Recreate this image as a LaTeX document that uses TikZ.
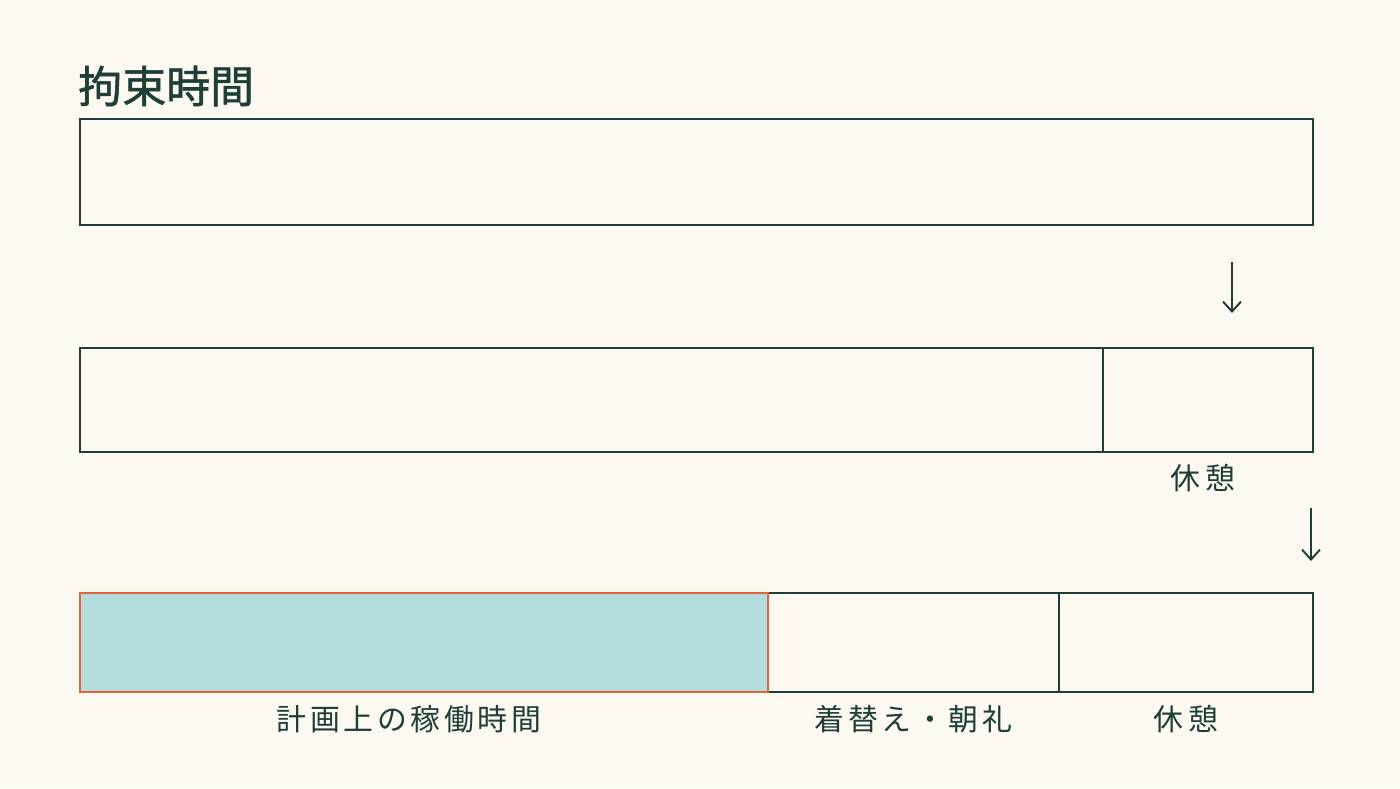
\documentclass[tikz,border=0pt]{standalone}
\usepackage{fontspec}
\newfontfamily\cjktitle[FakeBold=1.2]{Noto Sans CJK JP}
\newfontfamily\cjkspaced[LetterSpace=12]{Noto Sans CJK JP}
\usetikzlibrary{positioning,arrows.meta}
\definecolor{paper}{HTML}{FCF9F0}
\definecolor{ink}{HTML}{1E3F36}
\definecolor{plan}{HTML}{B3DCDC}
\definecolor{edge}{HTML}{E2643C}
\begin{document}
\begin{tikzpicture}[x=0.02cm, y=-0.02cm,
  bar/.style={draw=ink, line width=1.1pt, fill=paper, inner sep=0pt, outer sep=0pt},
  planbar/.style={bar, draw=edge, fill=plan},
  tag/.style={text=ink, font=\cjkspaced\fontsize{17pt}{20pt}\selectfont, inner sep=0pt},
  down/.style={draw=ink, line width=1.1pt, -{Straight Barb[length=0.2cm, width=0.36cm]}}]
\fill[paper] (0,0) rectangle (1400,788);
\useasboundingbox (0,0) rectangle (1400,788);
% title
\node[anchor=west, text=ink, inner sep=0pt, font=\cjktitle\fontsize{25pt}{28pt}\selectfont]
  (title) at (78,86) {拘束時間};
% bar 1
\node[bar, minimum width=24.66cm, minimum height=2.12cm] (total) at (696.5,172) {};
\coordinate (a1) at (1232,262);
\coordinate (a1e) at (1232,313);
\draw[down] (a1) -- (a1e);
% bar 2
\node[bar, minimum width=20.46cm, minimum height=2.08cm] (work) at (591.5,400) {};
\node[bar, minimum width=4.2cm, minimum height=2.08cm] (rest) at (1208,400) {};
\node[tag, below=0.24cm of rest, xshift=-0.1cm] (restlbl) {休\hspace{0.2em}憩};
\coordinate (a2) at (1311,508);
\coordinate (a2e) at (1311,561);
\draw[down] (a2) -- (a2e);
% bar 3
\node[bar, minimum width=5.82cm, minimum height=1.98cm] (prep) at (913.5,642.5) {};
\node[bar, minimum width=5.08cm, minimum height=1.98cm] (rest2) at (1186,642.5) {};
\node[planbar, minimum width=13.76cm, minimum height=1.98cm] (plan) at (424,642.5) {};
\node[tag, below=0.26cm of plan, xshift=-0.3cm] (planlbl) {計画上の稼働時間};
\node[tag, below=0.26cm of prep] (preplbl) {着替え・朝礼};
\node[tag, below=0.26cm of rest2] (rest2lbl) {休\hspace{0.2em}憩};
\end{tikzpicture}
\end{document}
